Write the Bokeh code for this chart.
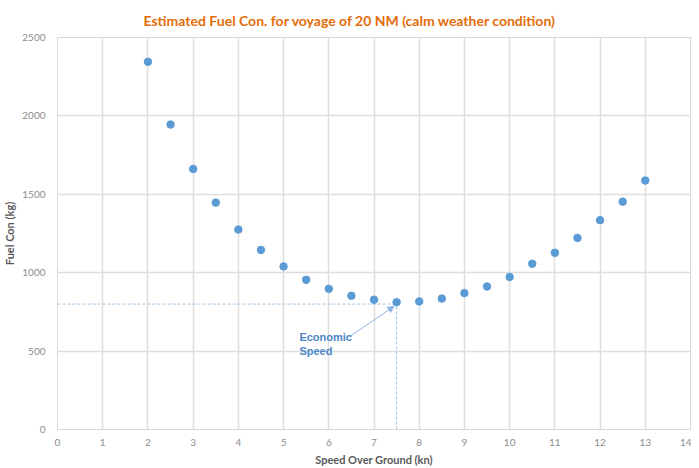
from bokeh.plotting import figure
from bokeh.models import Range1d, Label, Arrow, NormalHead, FixedTicker, Title
from bokeh.embed import file_html
from bokeh.resources import INLINE

speed = [2, 2.5, 3, 3.5, 4, 4.5, 5, 5.5, 6, 6.5, 7, 7.5, 8, 8.5, 9, 9.5, 10, 10.5, 11, 11.5, 12, 12.5, 13]
fuel = [2345, 1945, 1662, 1447, 1275, 1145, 1040, 955, 897, 853, 828, 812, 817, 835, 870, 912, 973, 1057, 1127, 1222, 1335, 1453, 1588]

eco_speed = 7.5
eco_fuel = 800
x_ticks = list(range(0, 15))
y_ticks = [0, 500, 1000, 1500, 2000, 2500]
title_text = "Estimated Fuel Con. for voyage of 20 NM (calm weather condition)"
note_text = "Economic\nSpeed"
note_pos = (5.35, 630)
arrow_start = (6.45, 590)

p = figure(frame_width=633, frame_height=392,
           output_backend="svg", toolbar_location=None,
           x_range=Range1d(0, 14), y_range=Range1d(0, 2500),
           min_border_left=49, min_border_right=1, min_border_top=20, min_border_bottom=20)
p.title = Title(text=title_text, align="left", offset=86, text_color="#e46c0a",
                text_font="Lato", text_font_size="14px", text_font_style="bold",
                standoff=18)

p.background_fill_color = "white"
p.border_fill_color = "white"
p.outline_line_color = "#d9d9d9"
p.outline_line_width = 1

for g in (p.xgrid, p.ygrid):
    g.grid_line_color = "#dedede"
    g.grid_line_width = 1.5
p.xaxis.ticker = FixedTicker(ticks=x_ticks)
p.yaxis.ticker = FixedTicker(ticks=y_ticks)
p.xgrid.ticker = FixedTicker(ticks=x_ticks)
p.ygrid.ticker = FixedTicker(ticks=y_ticks)

for ax in (p.xaxis, p.yaxis):
    ax.axis_line_color = "#d9d9d9"
    ax.major_tick_line_color = None
    ax.minor_tick_line_color = None
    ax.major_label_text_color = "#8c8c8c"
    ax.major_label_text_font = "Lato"
    ax.major_label_text_font_size = "10px"
    ax.axis_label_text_color = "#595959"
    ax.axis_label_text_font = "Lato"
    ax.axis_label_text_font_size = "11px"
    ax.axis_label_text_font_style = "bold"
p.xaxis.axis_label = "Speed Over Ground (kn)"
p.yaxis.axis_label = "Fuel Con (kg)"
p.xaxis.major_label_standoff = 3
p.yaxis.major_label_standoff = 6
p.xaxis.axis_label_standoff = 4
p.yaxis.axis_label_standoff = 3

# guide lines
p.line([0, eco_speed], [eco_fuel, eco_fuel], line_color="#9dc3e6", line_width=1, line_dash="3 2")
p.line([eco_speed, eco_speed], [0, eco_fuel], line_color="#9dc3e6", line_width=1, line_dash="3 2")

p.scatter(speed, fuel, size=7.5, fill_color="#5b9bd5", line_color="#5b9bd5")

p.add_layout(Arrow(end=NormalHead(size=6, fill_color="#8fb4e3", line_color="#8fb4e3"),
                   x_start=arrow_start[0], y_start=arrow_start[1],
                   x_end=eco_speed - 0.06, y_end=eco_fuel - 15,
                   line_color="#8fb4e3", line_width=1))
p.add_layout(Label(x=note_pos[0], y=note_pos[1], text=note_text, text_color="#4a86c8",
                   text_font="Liberation Sans", text_font_size="11px", text_font_style="bold",
                   text_baseline="top", text_line_height=1.15))

open("out.html", "w").write(file_html(p, INLINE))
